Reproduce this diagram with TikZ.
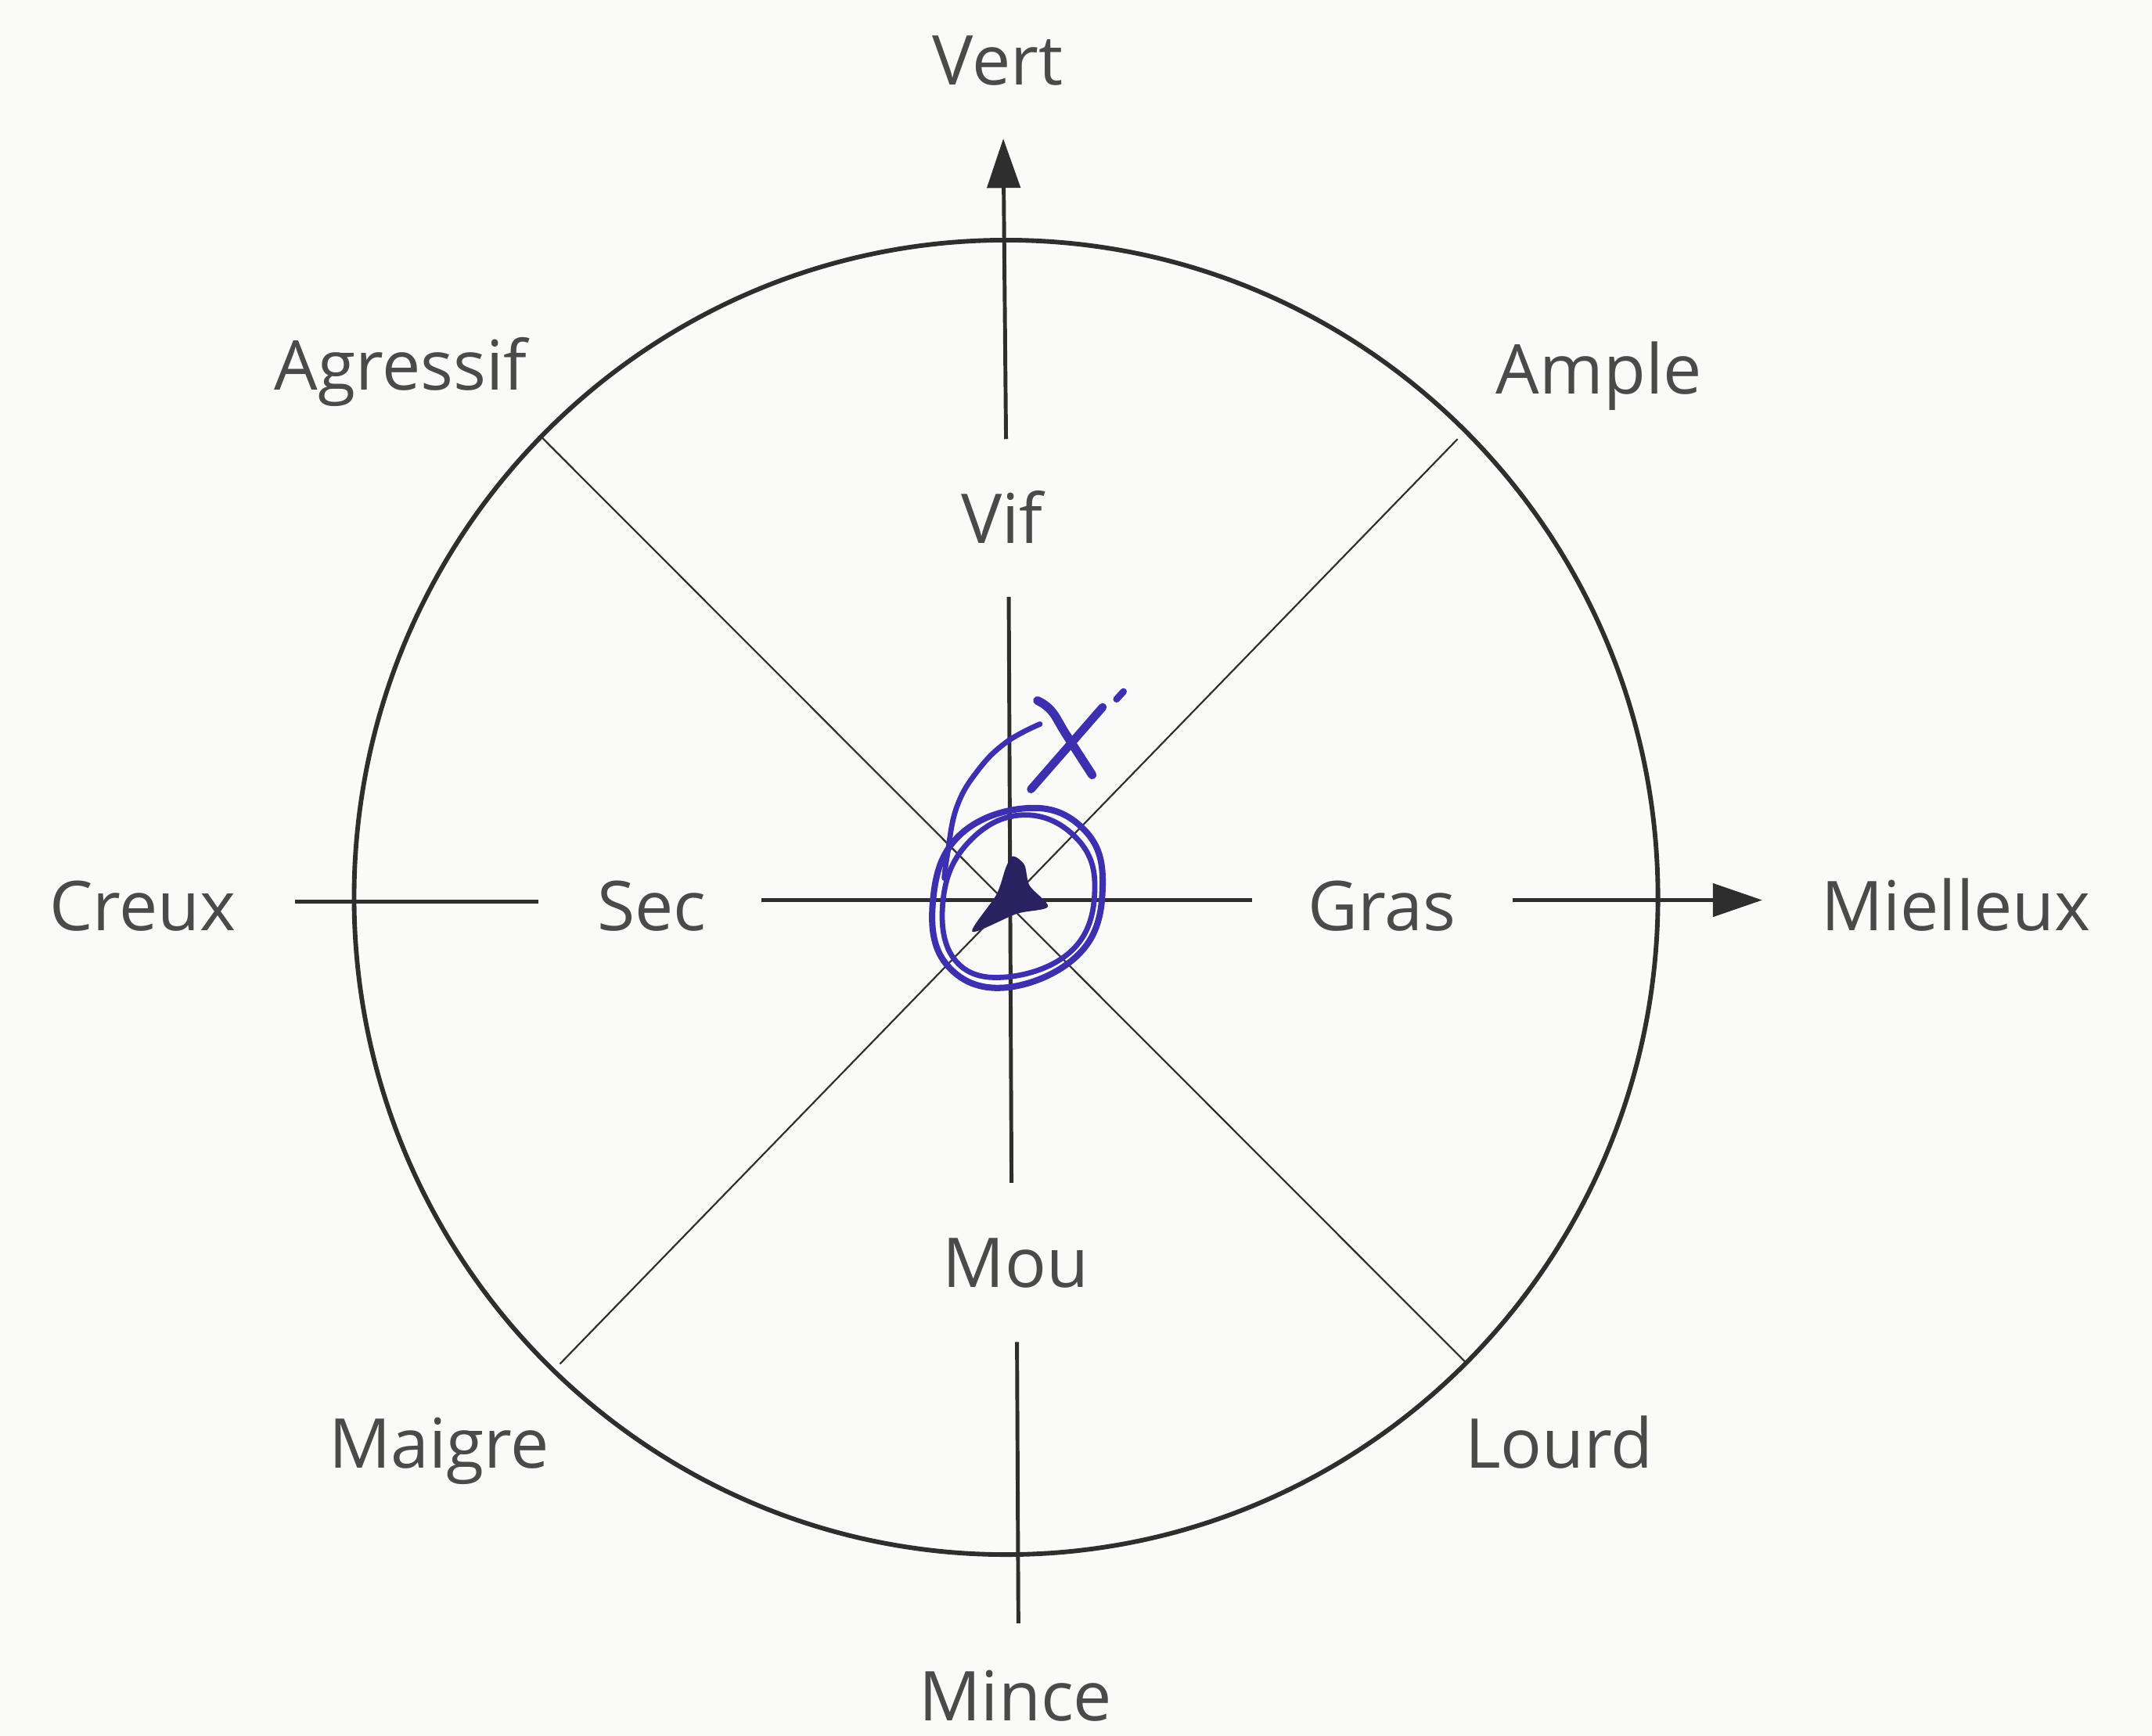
\documentclass[tikz,border=0pt]{standalone}
\usepackage{fontspec}
\setmainfont{Open Sans}
\usetikzlibrary{arrows.meta}
\definecolor{ink}{HTML}{2E2E2E}
\definecolor{txt}{HTML}{4A4A4A}
\definecolor{pen}{HTML}{3C30B0}
\definecolor{pendark}{HTML}{2A2260}
\definecolor{paper}{HTML}{FAFBF8}
\begin{document}
\begin{tikzpicture}[x=0.02cm,y=-0.02cm,
  lbl/.style={font=\fontsize{28.5}{34}\selectfont, text=txt, anchor=base, inner sep=0pt},
  axisline/.style={line width=1.6pt, draw=ink},
  diagline/.style={line width=0.7pt, draw=ink},
  rimline/.style={line width=1.9pt, draw=ink},
  arr/.style={-{Triangle[length=0.72cm,width=0.48cm]}},
  scribble/.style={draw=pen, line width=2.6pt, line cap=round, line join=round}]
\fill[paper] (0,0) rectangle (1568,1265);
\useasboundingbox (0,0) rectangle (1568,1265);

% outer circle
\draw[rimline] (733,654) ellipse [x radius=475, y radius=479];

% labels
\node[lbl] (vert) at (727,62) {Vert};
\node[lbl] (agressif) at (292,284) {Agressif};
\node[lbl] (ample) at (1165,287) {Ample};
\node[lbl] (vif) at (730,396) {Vif};
\node[lbl] (creux) at (104,678) {Creux};
\node[lbl] (sec) at (475,678) {Sec};
\node[lbl] (gras) at (1007,678) {Gras};
\node[lbl] (mielleux) at (1425,678) {Mielleux};
\node[lbl] (mou) at (740,938) {Mou};
\node[lbl] (maigre) at (320,1070) {Maigre};
\node[lbl] (lourd) at (1136,1070) {Lourd};
\node[lbl] (mince) at (740,1254) {Mince};

% axis end points
\coordinate (vtopA) at (733,320);
\coordinate (vtopB) at (731,101);
\coordinate (vmidA) at (735,435);
\coordinate (vmidB) at (737,862);
\coordinate (vbotA) at (741,978);
\coordinate (vbotB) at (742,1183);
\coordinate (hleftA) at (215,657);
\coordinate (hleftB) at (392,657);
\coordinate (hmidA) at (555,656);
\coordinate (hmidB) at (912,656);
\coordinate (hrightA) at (1102,656);
\coordinate (hrightB) at (1284,656);
\coordinate (nw) at (394,318);
\coordinate (se) at (1068,993);
\coordinate (ne) at (1062,320);
\coordinate (sw) at (408,994);

% diagonals
\draw[diagline] (nw) -- (se);
\draw[diagline] (ne) -- (sw);

% axes
\draw[axisline,arr] (vtopA) -- (vtopB);
\draw[axisline] (vmidA) -- (vmidB);
\draw[axisline] (vbotA) -- (vbotB);
\draw[axisline] (hleftA) -- (hleftB);
\draw[axisline] (hmidA) -- (hmidB);
\draw[axisline,arr] (hrightA) -- (hrightB);

% hand-drawn marks
\fill[pendark] plot[smooth cycle, tension=0.5] coordinates {(738,624) (746.4,630.3) (750.2,645.5) (763.5,660.8) (740.7,666) (708.4,679) (726,652) (733,632)};
\draw[scribble] plot[smooth cycle, tension=0.7] coordinates {(748.3,589) (788.2,603) (803.4,641.7) (788.2,693.1) (733.1,719.7) (689.4,702.6) (679.9,655.0) (698.9,609)};
\draw[scribble, line width=2.2pt] plot[smooth cycle, tension=0.7] coordinates {(744.5,594) (782.5,609) (797.7,645.5) (782.5,691.2) (733.1,712.1) (695.1,698.8) (687.5,653.1) (706.5,613)};
\draw[scribble, line width=2.2pt] plot[smooth, tension=0.7] coordinates {(688,640) (690.3,622.7) (697.0,588.5) (712.2,561.9) (733.1,541.0) (757.8,527.7)};
\draw[scribble, line width=3.6pt] plot[smooth, tension=0.7] coordinates {(755.9,510.6) (766,518) (776.8,535.3) (795.8,564.8)};
\draw[scribble, line width=3.4pt] (803.4,515.4) -- (751.2,575.2);
\draw[scribble, line width=2.8pt] (818.6,504.0) -- (813.5,509.6);
\end{tikzpicture}
\end{document}
